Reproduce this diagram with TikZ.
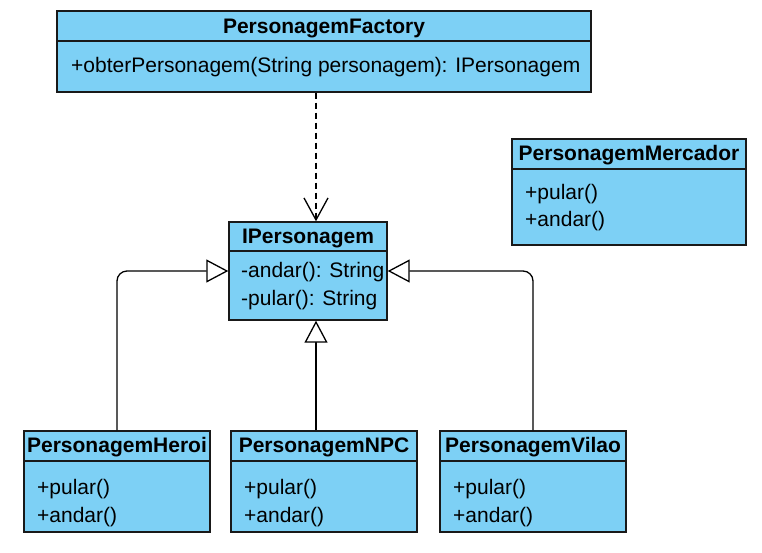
\documentclass[tikz,border=0pt]{standalone}
\usepackage{fontspec}
\setmainfont{Liberation Sans}
\usetikzlibrary{arrows.meta, positioning}
\definecolor{umlblue}{RGB}{125,208,245}

\tikzset{
	classbox/.style={draw=black!90, line width=1.4pt, fill=umlblue, inner sep=0pt},
	classname/.style={font=\bfseries\fontsize{21}{28}\selectfont, anchor=base, inner sep=0pt},
	member/.style={font=\fontsize{21}{28}\selectfont, anchor=base west, inner sep=0pt},
	divider/.style={line width=1.4pt, draw=black!90},
	realize/.style={line width=1.3pt, dash pattern=on 6pt off 4pt,
		-{Straight Barb[length=22pt, width=24pt, line width=1.3pt]}},
	extends/.style={line width=1.3pt, rounded corners=10pt,
		-{Triangle[open, fill=white, length=22pt, width=23pt, line width=1.3pt]}}
}

\begin{document}
\begin{tikzpicture}[x=1pt, y=-1pt]

	\useasboundingbox (0,0) rectangle (762,552);

	% Factory
	\node [classbox, minimum width=534pt, minimum height=81pt] (factory) at (324,51.5) {};
	\draw [divider] (factory.west |- 0,41) -- (factory.east |- 0,41);
	\node [classname] (factory-t) at (324,33) {PersonagemFactory};
	\node [member] (factory-m) at (71,72) {+obterPersonagem(String personagem): IPersonagem};

	% Interface
	\node [classbox, minimum width=158pt, minimum height=98pt] (ipersonagem) at (308,271) {};
	\draw [divider] (ipersonagem.west |- 0,251) -- (ipersonagem.east |- 0,251);
	\node [classname] (ipersonagem-t) at (308,243) {IPersonagem};
	\node [member] (ipersonagem-m1) at (241,277) {-andar(): String};
	\node [member] (ipersonagem-m2) at (241,305) {-pular(): String};

	% Mercador
	\node [classbox, minimum width=234pt, minimum height=106pt] (mercador) at (629,192) {};
	\draw [divider] (mercador.west |- 0,169) -- (mercador.east |- 0,169);
	\node [classname] (mercador-t) at (629,160) {PersonagemMercador};
	\node [member] (mercador-m1) at (525,199) {+pular()};
	\node [member] (mercador-m2) at (525,226) {+andar()};

	% Heroi, NPC, Vilao
	\foreach \n/\x/\t in {heroi/117/Heroi, npc/324/NPC, vilao/533/Vilao} {
		\node [classbox, minimum width=186pt, minimum height=101pt] (\n) at (\x,481.5) {};
		\draw [divider] (\n.west |- 0,461) -- (\n.east |- 0,461);
		\node [classname] (\n-t) at (\x,452) {Personagem\t};
		\node [member] (\n-m1) at (\x-80,494) {+pular()};
		\node [member] (\n-m2) at (\x-80,522) {+andar()};
	}

	\coordinate (mid) at (316,0);

	\draw [realize] (factory.south -| mid) -- (ipersonagem.north -| mid);
	\draw [extends] (heroi.north) |- (ipersonagem.west);
	\draw [extends] (vilao.north) |- (ipersonagem.east);
	\draw [extends] (npc.north -| mid) -- (ipersonagem.south -| mid);

\end{tikzpicture}
\end{document}
